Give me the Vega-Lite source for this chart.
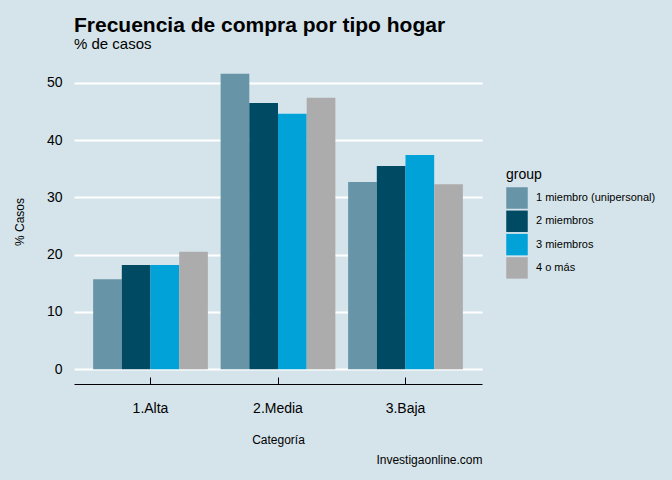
{
  "$schema": "https://vega.github.io/schema/vega-lite/v6.json",
  "autosize": {"type": "none"},
  "width": 408,
  "height": 325,
  "padding": {"left": 74, "top": 59, "right": 190, "bottom": 96},
  "background": "#d5e4eb",
  "title": {
    "text": "Frecuencia de compra por tipo hogar",
    "subtitle": "% de casos",
    "anchor": "start",
    "frame": "group",
    "fontSize": 21,
    "fontWeight": "bold",
    "color": "#000000",
    "subtitleFontSize": 15,
    "subtitleColor": "#000000",
    "subtitlePadding": 1,
    "offset": 7
  },
  "config": {
    "font": "Liberation Sans",
    "view": {"stroke": null},
    "axis": {"labelColor": "#000000", "titleColor": "#000000", "titleFontWeight": "normal"}
  },
  "data": {
    "values": [
      {"cat": "1.Alta", "group": "1 miembro (unipersonal)", "value": 15.7},
      {"cat": "1.Alta", "group": "2 miembros", "value": 18.2},
      {"cat": "1.Alta", "group": "3 miembros", "value": 18.2},
      {"cat": "1.Alta", "group": "4 o más", "value": 20.5},
      {"cat": "2.Media", "group": "1 miembro (unipersonal)", "value": 51.6},
      {"cat": "2.Media", "group": "2 miembros", "value": 46.5},
      {"cat": "2.Media", "group": "3 miembros", "value": 44.6},
      {"cat": "2.Media", "group": "4 o más", "value": 47.4},
      {"cat": "3.Baja", "group": "1 miembro (unipersonal)", "value": 32.7},
      {"cat": "3.Baja", "group": "2 miembros", "value": 35.5},
      {"cat": "3.Baja", "group": "3 miembros", "value": 37.4},
      {"cat": "3.Baja", "group": "4 o más", "value": 32.3}
    ]
  },
  "layer": [
    {
      "mark": {"type": "bar"},
      "encoding": {
        "x": {
          "field": "cat", "type": "nominal",
          "scale": {"paddingInner": 0.1, "paddingOuter": 0.15},
          "axis": {
            "title": "Categoría", "titleFontSize": 12, "titlePadding": 19,
            "labelAngle": 0, "labelFontSize": 14, "labelPadding": 24,
            "tickSize": -7, "tickColor": "#000000", "domainColor": "#000000",
            "grid": false
          }
        },
        "xOffset": {"field": "group", "type": "nominal", "scale": {"paddingInner": 0, "paddingOuter": 0}},
        "y": {
          "field": "value", "type": "quantitative",
          "scale": {"domain": [-2.58, 54.18], "nice": false, "zero": false},
          "axis": {
            "title": "% Casos", "titleFontSize": 12, "titlePadding": 20,
            "values": [0, 10, 20, 30, 40, 50],
            "labelFontSize": 14, "labelPadding": 12,
            "ticks": false, "domain": false,
            "gridColor": "#ffffff", "gridWidth": 2, "gridOpacity": 1
          }
        },
        "color": {
          "field": "group", "type": "nominal",
          "scale": {"range": ["#6894a8", "#004b63", "#00a2d8", "#acacac"]},
          "legend": {
            "title": "group", "orient": "none", "legendX": 432, "legendY": 109,
            "titleFontSize": 14, "titleFontWeight": "normal", "titleColor": "#000000",
            "titlePadding": 5,
            "labelFontSize": 11, "labelColor": "#000000", "labelOffset": 8,
            "symbolType": "square", "symbolSize": 462, "symbolStrokeWidth": 0,
            "symbolOpacity": 1, "rowPadding": 1.3
          }
        }
      }
    },
    {
      "mark": {"type": "point", "opacity": 0},
      "encoding": {
        "x": {
          "field": "cat", "type": "nominal",
          "axis": {
            "orient": "bottom",
            "title": "Investigaonline.com", "titleFontSize": 12, "titleAnchor": "end",
            "labels": false, "ticks": false, "domain": false, "grid": false,
            "titlePadding": 0, "offset": 70
          }
        }
      }
    }
  ],
  "resolve": {"scale": {"x": "independent"}, "axis": {"x": "independent"}}
}
